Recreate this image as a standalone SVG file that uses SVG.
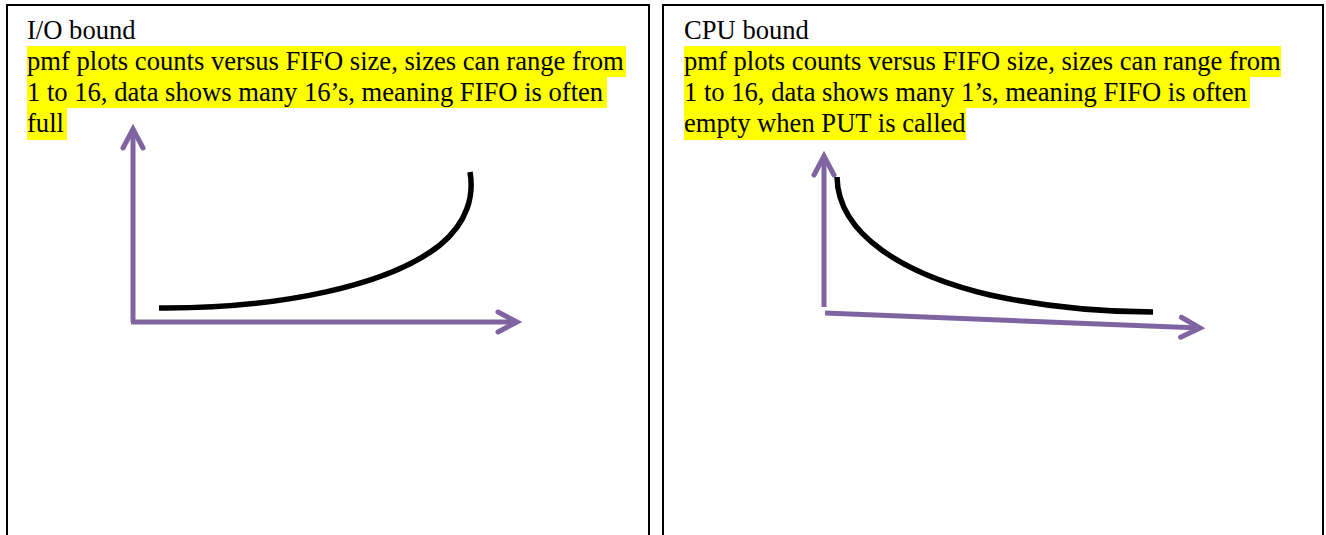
<svg xmlns="http://www.w3.org/2000/svg" width="1326" height="535" viewBox="0 0 1326 535">
<style>
.panel{fill:#ffffff;stroke:#000000;stroke-width:2}
.t{font-family:"Liberation Serif","Times New Roman",serif;font-size:26.6px;fill:#000000}
.hl{fill:#ffff00}
.axis{fill:none;stroke:#8064A2;stroke-width:5}
.curve{fill:none;stroke:#000000;stroke-width:5.5;stroke-linecap:butt}
</style>
<defs>
<marker id="chev" markerUnits="userSpaceOnUse" viewBox="-26 -14 32 28" refX="0" refY="0" markerWidth="32" markerHeight="28" orient="auto">
<path d="M-19,-10 L0,0 L-19,10" fill="none" stroke="#8064A2" stroke-width="5" stroke-linecap="round" stroke-linejoin="miter"/>
</marker>
</defs>
<rect width="1326" height="535" fill="#ffffff"/>
<g id="panel-io">
<rect class="panel" x="7" y="5" width="642" height="545"/>
<text class="t" x="27" y="39">I/O bound</text>
<rect class="hl" x="27" y="46" width="599" height="31"/>
<rect class="hl" x="27" y="77" width="580" height="31"/>
<rect class="hl" x="27" y="108" width="40" height="32"/>
<text class="t" x="27" y="70">pmf plots counts versus FIFO size, sizes can range from</text>
<text class="t" x="27" y="101">1 to 16, data shows many 16’s, meaning FIFO is often</text>
<text class="t" x="27" y="132">full</text>
</g>
<g id="panel-cpu">
<rect class="panel" x="663" y="5" width="660" height="545"/>
<text class="t" x="684" y="39">CPU bound</text>
<rect class="hl" x="684" y="46" width="597" height="31"/>
<rect class="hl" x="684" y="77" width="566" height="31"/>
<rect class="hl" x="684" y="108" width="282" height="32"/>
<text class="t" x="684" y="70">pmf plots counts versus FIFO size, sizes can range from</text>
<text class="t" x="684" y="101">1 to 16, data shows many 1’s, meaning FIFO is often</text>
<text class="t" x="684" y="132">empty when PUT is called</text>
</g>
<g id="connectors">
<path class="axis" d="M133,322 L133,129" marker-end="url(#chev)"/>
<path class="axis" d="M131,322 L517,322" marker-end="url(#chev)"/>
<path class="axis" d="M824,307 L824,156" marker-end="url(#chev)"/>
<path class="axis" d="M825,313 L1200,328" marker-end="url(#chev)"/>
<path class="curve" d="M159,308 C280,309 390,285 440,245 C468,222 474,195 470,172"/>
<path class="curve" d="M837,177 C838,235 905,275 990,295 C1055,309 1110,312 1153,312"/>
</g>
</svg>
